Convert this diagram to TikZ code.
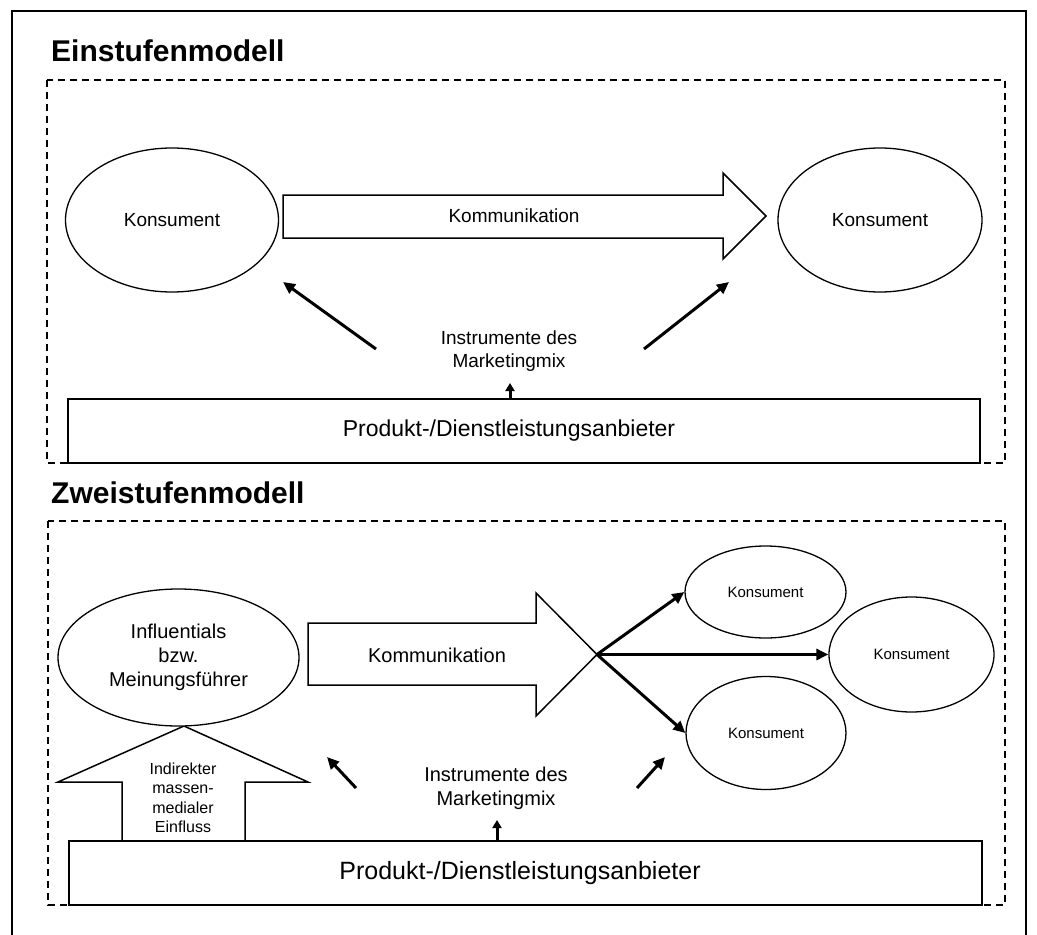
\documentclass[tikz,border=0pt]{standalone}
\usepackage{fontspec}
\setmainfont{Liberation Sans}
\usetikzlibrary{shapes.geometric,arrows.meta}

\begin{document}
\begin{tikzpicture}[x=1pt,y=-1pt,
  frame/.style={line width=2pt},
  dashbox/.style={line width=1.4pt, dash pattern=on 7pt off 5pt},
  oval/.style={ellipse, draw, line width=1.3pt, inner sep=0pt, fill=white},
  blockarrow/.style={draw, fill=white, line width=1.5pt, line join=miter},
  basebox/.style={draw, fill=white, line width=2pt, inner sep=0pt},
  push/.style={line width=3pt, -{Triangle[length=12pt,width=11pt]}},
  nudge/.style={line width=3pt, -{Triangle[length=8pt,width=9pt]}},
  title/.style={font=\fontsize{30}{36}\selectfont\bfseries, anchor=base west, inner sep=0pt},
  txt/.style={align=center, inner sep=0pt},
]
\useasboundingbox (0,0) rectangle (1037,935);
\clip (0,0) rectangle (1037,935);
\fill[white] (0,0) rectangle (1037,935);

% outer frame (open at the bottom edge of the page)
\draw[frame] (12,960) -- (12,11) -- (1026,11) -- (1026,960);

% ---------------- one-step model ----------------
\node[title] (t1) at (51,61) {Einstufenmodell};
\draw[dashbox] (47,80) rectangle (1005,463);

\node[oval, minimum width=213pt, minimum height=144pt,
      font=\fontsize{19}{23}\selectfont] (kL) at (172,220) {Konsument};
\node[oval, minimum width=204pt, minimum height=144pt,
      font=\fontsize{19}{23}\selectfont] (kR) at (880,220) {Konsument};

\draw[blockarrow] (283,195) -- (723,195) -- (723,173) -- (766,216)
  -- (723,259) -- (723,238) -- (283,238) -- cycle;
\node[txt, font=\fontsize{19}{23}\selectfont] (kom1) at (514,216) {Kommunikation};

\node[txt, font=\fontsize{19}{23}\selectfont] (mix1) at (509,351)
  {Instrumente des\\Marketingmix};

\coordinate (dL1s) at (376,349); \coordinate (dL1e) at (283,282);
\coordinate (dR1s) at (644,349); \coordinate (dR1e) at (729,282);
\draw[push] (dL1s) -- (dL1e);
\draw[push] (dR1s) -- (dR1e);

\node[basebox, minimum width=912pt, minimum height=64pt] (box1) at (524,431) {};
\node[txt, font=\fontsize{23}{28}\selectfont] (anb1) at (509,431)
  {Produkt-/Dienstleistungsanbieter};
\coordinate (up1s) at (510,399); \coordinate (up1e) at (510,383);
\draw[nudge] (up1s) -- (up1e);

% ---------------- two-step model ----------------
\node[title] (t2) at (51,503) {Zweistufenmodell};
\draw[dashbox] (48,521) rectangle (1005,905);

% mass-media influence arrow pointing at the opinion leaders
\draw[blockarrow] (122,845) -- (122,782) -- (58,782) -- (184,726)
  -- (308,782) -- (245,782) -- (245,845);
\node[txt, font=\fontsize{16}{19.5}\selectfont] (mm) at (183,798)
  {Indirekter\\massen-\\medialer\\Einfluss};

\node[oval, minimum width=241pt, minimum height=137pt,
      font=\fontsize{20}{24}\selectfont, align=center] (infl) at (178.5,657.5)
  {Influentials\\bzw.\\Meinungsführer};

\draw[blockarrow] (308,623) -- (536,623) -- (536,593) -- (597,654.5)
  -- (536,716) -- (536,685) -- (308,685) -- cycle;
\coordinate (tip2) at (597,654.5);
\node[txt, font=\fontsize{20}{24}\selectfont] (kom2) at (437,655) {Kommunikation};

\node[oval, minimum width=161pt, minimum height=92pt,
      font=\fontsize{15}{18}\selectfont] (kA) at (765.5,592) {Konsument};
\node[oval, minimum width=165pt, minimum height=115pt,
      font=\fontsize{15}{18}\selectfont] (kB) at (911.5,654.5) {Konsument};
\node[oval, minimum width=160pt, minimum height=113pt,
      font=\fontsize{15}{18}\selectfont] (kC) at (766,733) {Konsument};

\draw[push] (tip2) -- (kA.west);
\draw[push] (tip2) -- (kB.west);
\draw[push] (tip2) -- (kC.west);

\node[txt, font=\fontsize{20}{24}\selectfont] (mix2) at (496,788)
  {Instrumente des\\Marketingmix};

\coordinate (dL2s) at (356,788); \coordinate (dL2e) at (327,757);
\coordinate (dR2s) at (637,788); \coordinate (dR2e) at (665,757);
\draw[push] (dL2s) -- (dL2e);
\draw[push] (dR2s) -- (dR2e);

\node[basebox, minimum width=913pt, minimum height=64pt] (box2) at (525.5,873) {};
\node[txt, font=\fontsize{25}{30}\selectfont] (anb2) at (520,873)
  {Produkt-/Dienstleistungsanbieter};
\coordinate (up2s) at (497,841); \coordinate (up2e) at (497,820);
\draw[nudge] (up2s) -- (up2e);
\end{tikzpicture}
\end{document}
